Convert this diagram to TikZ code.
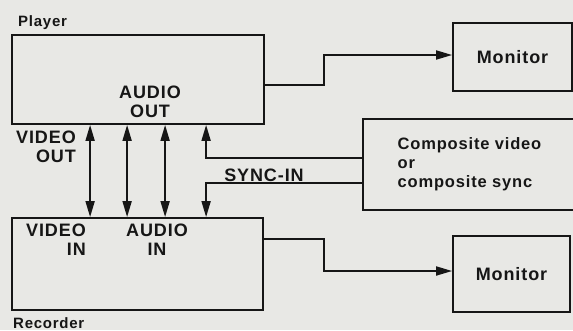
\documentclass[tikz,border=0pt]{standalone}
\usepackage{fontspec}
\setmainfont{Liberation Sans}[LetterSpace=5]
\usepackage{tikz}
\usetikzlibrary{calc,arrows.meta,positioning}
\definecolor{scanPaper}{RGB}{232,232,229}
\definecolor{scanInk}{RGB}{22,22,22}

\begin{document}
\begin{tikzpicture}[x=1pt,y=-1pt,
  box/.style={draw=scanInk, line width=1.8pt, inner sep=0pt, text=scanInk,
    font=\fontsize{18}{19}\selectfont\bfseries},
  lbl/.style={inner sep=0pt, text=scanInk, font=\fontsize{18}{19}\selectfont\bfseries},
  smalllbl/.style={inner sep=0pt, text=scanInk, font=\fontsize{15}{17}\selectfont\bfseries},
  conn/.style={draw=scanInk, line width=1.8pt, -{Triangle[length=16pt,width=9pt]}},
  dbl/.style={draw=scanInk, line width=1.8pt,
    {Triangle[length=16pt,width=9pt]}-{Triangle[length=16pt,width=9pt]}}]
\fill[scanPaper] (0,0) rectangle (573,330);
\useasboundingbox (0,0) rectangle (573,330);
\clip (0,0) rectangle (573,330);

% boxes
\node[box, minimum width=252pt, minimum height=89pt] (player) at (138,79.5) {};
\node[box, minimum width=251pt, minimum height=92pt] (recorder) at (137.5,264) {};
\node[box, minimum width=119pt, minimum height=68pt] (monA) at (512.5,57) {Monitor};
\node[box, minimum width=117pt, minimum height=76pt] (monB) at (511.5,274) {Monitor};
\node[box, minimum width=213pt, minimum height=91pt, align=left,
  font=\fontsize{16.5}{19}\selectfont\bfseries] (comp) at (469.5,164.5)
  {Composite video\\or\\composite sync};

% labels
\node[smalllbl, anchor=base west] (playerlbl) at (18,26) {Player};
\node[smalllbl, anchor=base west] (recorderlbl) at (13,328) {Recorder};
\node[lbl, align=center] (audioout) at (150,101.5) {AUDIO\\OUT};
\node[lbl, align=right, anchor=east] (videoout) at (76,146.5) {VIDEO\\OUT};
\node[lbl, align=right, anchor=east] (videoin) at (86,240) {VIDEO\\IN};
\node[lbl, align=center] (audioin) at (157,240) {AUDIO\\IN};
\node[lbl] (syncin) at (264,175) {SYNC-IN};

% player <-> recorder
\foreach \dx in {79,116,154}
  \draw[dbl] ([xshift=\dx pt]player.south west) -- ([xshift=\dx pt]recorder.north west);

% sync
\draw[conn] ([yshift=6.5pt]comp.west) -| ([xshift=195pt]player.south west);
\draw[conn] ([yshift=-18.5pt]comp.west) -| ([xshift=195pt]recorder.north west);

% monitors
\draw[conn] ([yshift=-5.5pt]player.east) -- ++(59,0) |- ([yshift=2pt]monA.west);
\draw[conn] ([yshift=25pt]recorder.east) -- ++(60,0) |- ([yshift=3pt]monB.west);
\end{tikzpicture}
\end{document}
